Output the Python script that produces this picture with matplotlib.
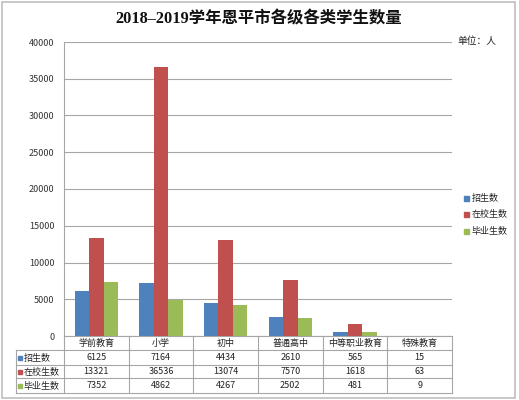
import matplotlib
matplotlib.use("Agg")
import matplotlib.pyplot as plt
from matplotlib.patches import Rectangle
from matplotlib.lines import Line2D

plt.rcParams['font.family'] = ['Noto Sans CJK SC', 'DejaVu Sans']

categories = ["学前教育", "小学", "初中", "普通高中", "中等职业教育", "特殊教育"]
series_names = ["招生数", "在校生数", "毕业生数"]
enroll = [6125, 7164, 4434, 2610, 565, 15]
in_school = [13321, 36536, 13074, 7570, 1618, 63]
graduates = [7352, 4862, 4267, 2502, 481, 9]
series = [enroll, in_school, graduates]
colors = ["#4F81BD", "#C0504D", "#9BBB59"]
yticks = [0, 5000, 10000, 15000, 20000, 25000, 30000, 35000, 40000]

W, H = 519, 400
fig = plt.figure(figsize=(W / 100, H / 100), dpi=100)

def fx(px):
    return px / W

def fy(py):
    return 1 - py / H

# outer frame
fig.patches.append(Rectangle((fx(2), fy(398)), fx(513), 396 / H, transform=fig.transFigure,
                             fill=False, edgecolor="#BFBFBF", linewidth=1.2))

ax_l, ax_r, ax_t, ax_b = 64, 452, 42, 336
ax = fig.add_axes([fx(ax_l), fy(ax_b), fx(ax_r - ax_l), (ax_b - ax_t) / H])
n = len(categories)
bw = 0.225
for i, (vals, c, name) in enumerate(zip(series, colors, series_names)):
    xs = [k + (i - 1) * bw for k in range(n)]
    ax.bar(xs, vals, width=bw, color=c, label=name, zorder=3)
ax.set_xlim(-0.5, n - 0.5)
ax.set_ylim(0, 40000)
ax.set_yticks(yticks)
ax.set_yticklabels([str(v) for v in yticks], fontsize=6.5, color="#333333")
ax.set_xticks([])
ax.tick_params(axis='y', length=0, pad=7)
ax.grid(axis='y', color="#A6A6A6", linewidth=0.8, zorder=0)
for s in ["top", "right", "bottom"]:
    ax.spines[s].set_visible(False)
ax.spines["left"].set_color("#A6A6A6")
ax.spines["left"].set_linewidth(0.8)

# table below
tab_l, tab_r = 16, 452
rows_y = [336, 350, 365, 378, 393]
col_x = [ax_l + k * (ax_r - ax_l) / n for k in range(n + 1)]
lc = "#A6A6A6"
tax = fig.add_axes([0, 0, 1, 1])
tax.set_xlim(0, W)
tax.set_ylim(H, 0)
tax.axis("off")
tax.add_line(Line2D([ax_l, ax_r], [rows_y[0], rows_y[0]], color=lc, lw=0.8))
for y in rows_y[1:]:
    tax.add_line(Line2D([tab_l, ax_r], [y, y], color=lc, lw=0.8))
for x in col_x:
    tax.add_line(Line2D([x, x], [rows_y[0], rows_y[-1]], color=lc, lw=0.8))
tax.add_line(Line2D([tab_l, tab_l], [rows_y[1], rows_y[-1]], color=lc, lw=0.8))
for k, cat in enumerate(categories):
    tax.text((col_x[k] + col_x[k + 1]) / 2, (rows_y[0] + rows_y[1]) / 2 + 0.5, cat,
             ha="center", va="center", fontsize=6.5, color="#222222")
for r, (vals, c, name) in enumerate(zip(series, colors, series_names)):
    yc = (rows_y[r + 1] + rows_y[r + 2]) / 2 + 0.5
    tax.add_patch(Rectangle((tab_l + 1.5, yc - 2.5), 4.5, 4.5, color=c))
    tax.text(tab_l + 7.5, yc, name, ha="left", va="center", fontsize=6.5, color="#222222")
    for k, v in enumerate(vals):
        tax.text((col_x[k] + col_x[k + 1]) / 2, yc, str(v), ha="center", va="center",
                 fontsize=6.5, color="#222222")

# legend
for r, (c, name) in enumerate(zip(colors, series_names)):
    yc = 198 + r * 16.5
    tax.add_patch(Rectangle((464, yc - 2.5), 5, 5, color=c))
    tax.text(472, yc, name, ha="left", va="center", fontsize=6.5, color="#222222")

tax.text(457, 41, "单位：人", ha="left", va="center", fontsize=7, color="#222222")

tax.text(259, 19, "2018–2019学年恩平市各级各类学生数量", ha="center", va="center",
         fontsize=11.8, fontweight="bold", family=["Liberation Serif", "Noto Sans CJK SC"],
         color="#111111")

fig.savefig("out.png", dpi=100)
